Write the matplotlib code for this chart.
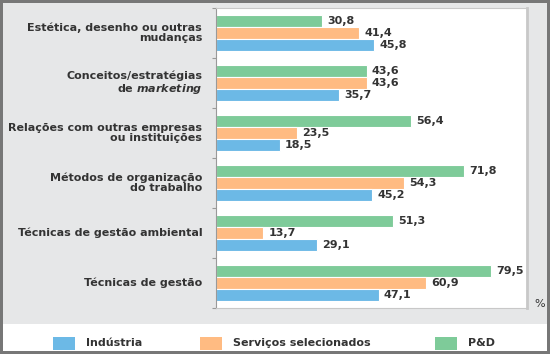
import numpy as np
import matplotlib.pyplot as plt
from matplotlib.patches import Rectangle

categories = [
    "Estética, desenho ou outras\nmudanças",
    "Conceitos/estratégias\nde $\\mathbf{\\mathit{marketing}}$",
    "Relações com outras empresas\nou instituições",
    "Métodos de organização\ndo trabalho",
    "Técnicas de gestão ambiental",
    "Técnicas de gestão",
]
industria = [45.8, 35.7, 18.5, 45.2, 29.1, 47.1]
servicos = [41.4, 43.6, 23.5, 54.3, 13.7, 60.9]
ped = [30.8, 43.6, 56.4, 71.8, 51.3, 79.5]
series_names = ["Indústria", "Serviços selecionados", "P&D"]

c_blue = "#6cb9e6"
c_orange = "#ffbb82"
c_green = "#7ecb99"
txt = "#333333"

plt.rcParams["mathtext.fontset"] = "custom"
plt.rcParams["mathtext.it"] = "DejaVu Sans:italic:bold"
plt.rcParams["mathtext.bf"] = "DejaVu Sans:italic:bold"

W, H = 550, 354
fig = plt.figure(figsize=(W / 100, H / 100), dpi=100, facecolor="white")

# gray background and dark outer frame
fig.patches.append(Rectangle((0, 0), 1, 1, transform=fig.transFigure,
                             facecolor="#777777", edgecolor="none", zorder=-3))
fig.patches.append(Rectangle((3 / W, 3 / H), 544 / W, 348 / H, transform=fig.transFigure,
                             facecolor="white", edgecolor="none", zorder=-2))
fig.patches.append(Rectangle((3 / W, 1 - 324 / H), 544 / W, 321 / H, transform=fig.transFigure,
                             facecolor="#e6e7e8", edgecolor="none", zorder=-1))

x0, x1, y0, y1 = 216, 527, 8, 308
ax = fig.add_axes([x0 / W, 1 - y1 / H, (x1 - x0) / W, (y1 - y0) / H])
ax.set_facecolor("white")

y = np.arange(len(categories))
h = 0.235
fs = 8
for vals, off, col in [(ped, -h, c_green), (servicos, 0, c_orange), (industria, h, c_blue)]:
    ax.barh(y + off, vals, height=h, color=col, edgecolor="white", linewidth=0.8)
    for yi, v in zip(y, vals):
        ax.text(v + 1.5, yi + off, f"{v:.1f}".replace(".", ","), va="center", ha="left",
                fontsize=fs, fontweight="bold", color=txt)

ax.set_xlim(0, 90)
ax.set_ylim(len(categories) - 0.5, -0.5)
ax.set_xticks([])
ax.set_yticks(np.arange(len(categories) + 1) - 0.5)
ax.set_yticklabels([])
ax.tick_params(axis="y", length=3, color="#999999", width=0.8)
for yi, lab in zip(y, categories):
    ax.text(-4.0, yi, lab, ha="right", va="center", fontsize=fs, fontweight="bold", color=txt,
            multialignment="right", linespacing=1.05)

for s in ["top", "right", "bottom"]:
    ax.spines[s].set_color("#c8c8c8")
ax.spines["right"].set_linewidth(2)
ax.spines["left"].set_color("#999999")
ax.spines["left"].set_linewidth(0.8)

fig.text(540 / W, 1 - 304 / H, "%", ha="center", va="center", fontsize=fs, color=txt)

# legend
leg = [(53, c_blue, series_names[0]), (200, c_orange, series_names[1]), (435, c_green, series_names[2])]
for lx, col, name in leg:
    fig.patches.append(Rectangle((lx / W, 1 - 350 / H), 22 / W, 13 / H, transform=fig.transFigure,
                                 facecolor=col, edgecolor="none"))
    fig.text((lx + 33) / W, 1 - 343 / H, name, ha="left", va="center", fontsize=fs,
             fontweight="bold", color=txt)

fig.savefig("out.png", dpi=100)
